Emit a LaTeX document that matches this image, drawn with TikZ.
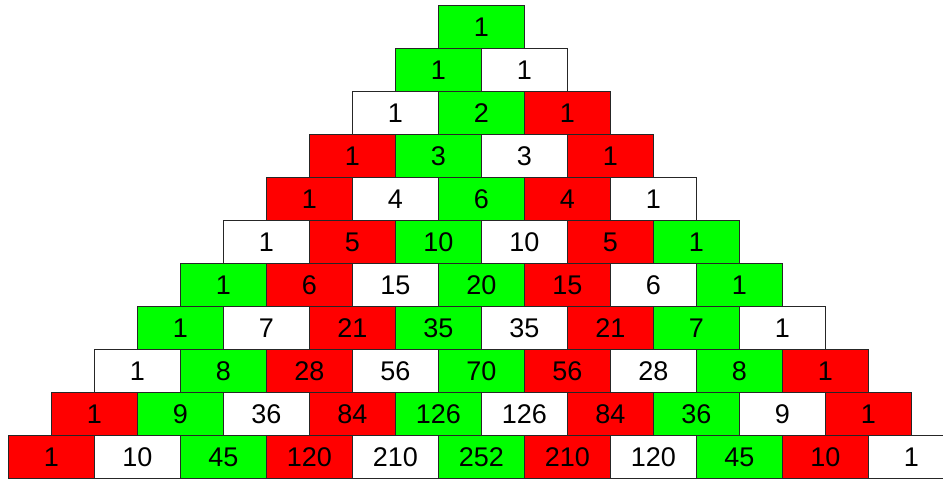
\documentclass[tikz,border=0pt]{standalone}
\usepackage{fontspec}
\setmainfont{Liberation Sans}
\definecolor{cgreen}{HTML}{00FF00}
\definecolor{cred}{HTML}{FF0000}
\colorlet{c0}{cred}
\colorlet{c1}{cred}
\colorlet{c2}{white}
\colorlet{c3}{cgreen}
\colorlet{c4}{cgreen}
\colorlet{c5}{white}
\begin{document}
\begin{tikzpicture}[x=1pt,y=1pt,
  cell/.style={draw=black!85, line width=0.8pt, minimum width=86pt, minimum height=43pt,
    inner sep=0pt, anchor=north west, font=\fontsize{27}{27}\selectfont}]
\useasboundingbox (0,0) rectangle (943,-479);
\clip (0,0) rectangle (943,-479);
\foreach \r/\vals in {0/{1},1/{1,1},2/{1,2,1},3/{1,3,3,1},4/{1,4,6,4,1},5/{1,5,10,10,5,1},
  6/{1,6,15,20,15,6,1},7/{1,7,21,35,35,21,7,1},8/{1,8,28,56,70,56,28,8,1},
  9/{1,9,36,84,126,126,84,36,9,1},10/{1,10,45,120,210,252,210,120,45,10,1}} {
  \foreach \v [count=\kk from 0] in \vals {
    \pgfmathtruncatemacro\j{mod(10-\r+2*\kk,6)}
    \pgfmathsetmacro\xx{438-43*\r+86*\kk}
    \pgfmathsetmacro\yy{-5-43*\r}
    \node[cell, fill=c\j] (n-\r-\kk) at (\xx,\yy) {\v};
  }
}
\end{tikzpicture}
\end{document}
